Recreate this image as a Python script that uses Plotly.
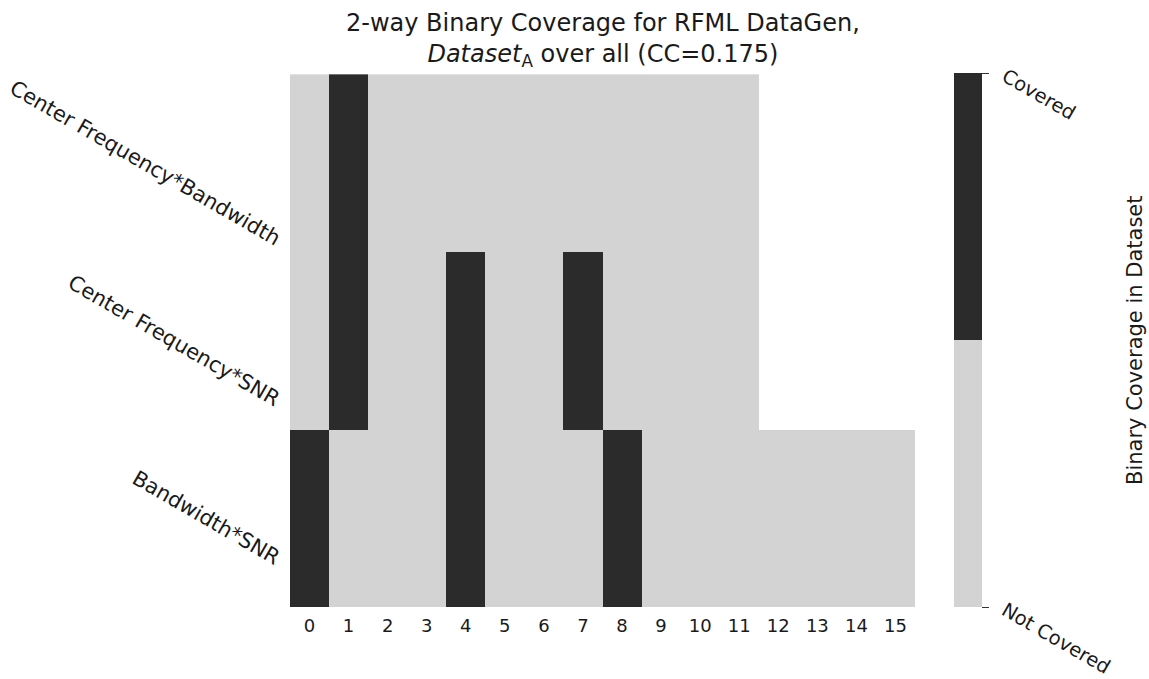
import plotly.graph_objects as go

columns = list(range(16))
row_labels = ["Center Frequency*Bandwidth", "Center Frequency*SNR", "Bandwidth*SNR"]
cf_bw = [0, 1, 0, 0, 0, 0, 0, 0, 0, 0, 0, 0, None, None, None, None]
cf_snr = [0, 1, 0, 0, 1, 0, 0, 1, 0, 0, 0, 0, None, None, None, None]
bw_snr = [1, 0, 0, 0, 1, 0, 0, 0, 1, 0, 0, 0, 0, 0, 0, 0]
cbar_tickvals = [0, 1]
cbar_ticktext = ["Not Covered", "Covered"]
cbar_title = "Binary Coverage in Dataset"
title_line1 = "2-way Binary Coverage for RFML DataGen,"
title_line2 = "<i>Dataset</i><sub>A</sub> over all (CC=0.175)"

DARK = "#2b2b2b"
LIGHT = "#d3d3d3"
FONT = "DejaVu Sans"
TXT = "#1a1a1a"

# plot area geometry in pixels
W, H = 1149, 679
L, R, T, B = 290, 234, 73, 72
PW, PH = W - L - R, H - T - B


def px_x(px):
    return (px - L) / PW


def px_y(py):
    return (T + PH - py) / PH


fig = go.Figure()
fig.add_trace(go.Heatmap(
    z=[cf_bw, cf_snr, bw_snr],
    x=columns,
    y=row_labels,
    zmin=0, zmax=1,
    colorscale=[[0, LIGHT], [0.5, LIGHT], [0.5, DARK], [1, DARK]],
    hoverongaps=False,
    colorbar=dict(
        x=px_x(954 - 10), xanchor="left", xref="paper",
        y=0.5, yanchor="middle", len=1, lenmode="fraction", ypad=0,
        thickness=28, outlinewidth=0,
        tickvals=cbar_tickvals, showticklabels=False,
        ticks="outside", ticklen=7, tickcolor="#333333", tickwidth=1,
    ),
))

annotations = []
for lab in row_labels:
    annotations.append(dict(
        text=lab, x=px_x(287), xref="paper", xanchor="right",
        y=lab, yref="y", yanchor="middle",
        textangle=30, showarrow=False,
        font=dict(family=FONT, size=21, color=TXT),
    ))
# colorbar tick labels (rotated)
for v, t in zip(cbar_tickvals, cbar_ticktext):
    tick_py = T + PH * (1 - v)
    annotations.append(dict(
        text=t, x=px_x(995), xref="paper", xanchor="left",
        y=px_y(tick_py - 11), yref="paper", yanchor="top",
        textangle=30, showarrow=False,
        font=dict(family=FONT, size=19.5, color=TXT),
    ))
annotations.append(dict(
    text=cbar_title, x=px_x(1135), xref="paper", xanchor="center",
    y=0.5, yref="paper", yanchor="middle", textangle=-90, showarrow=False,
    font=dict(family=FONT, size=21, color=TXT),
))
annotations.append(dict(
    text=title_line1 + "<br>" + title_line2,
    x=0.5, xref="paper", xanchor="center",
    y=px_y(7), yref="paper", yanchor="top", showarrow=False,
    font=dict(family=FONT, size=24, color=TXT),
))

fig.update_layout(
    width=W, height=H,
    margin=dict(l=L, r=R, t=T, b=B),
    plot_bgcolor="white", paper_bgcolor="white",
    font=dict(family=FONT, size=16, color=TXT),
    xaxis=dict(tickmode="array", tickvals=columns, ticktext=[str(c) for c in columns],
               showgrid=False, zeroline=False, ticks="", showline=False,
               ticklabelstandoff=6,
               range=[-0.5, 15.5], tickfont=dict(family=FONT, size=18, color=TXT)),
    yaxis=dict(autorange="reversed", showticklabels=False, showgrid=False,
               zeroline=False, ticks="", showline=False),
    annotations=annotations,
)

fig.write_html("out.html")
